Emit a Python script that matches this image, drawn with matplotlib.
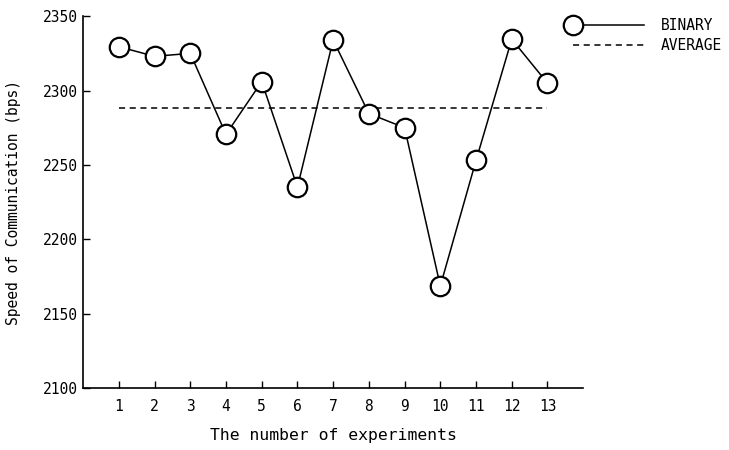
import matplotlib.pyplot as plt
from matplotlib.lines import Line2D
from matplotlib.legend_handler import HandlerLine2D

# values
experiments = [1, 2, 3, 4, 5, 6, 7, 8, 9, 10, 11, 12, 13]
binary_speed = [2329.5, 2323, 2325, 2270.5, 2306, 2235, 2334, 2284.5, 2275, 2168.5, 2253, 2334.5, 2305]
average_speed = 2288

plt.rcParams['font.family'] = ['DejaVu Sans Mono']


# legend entry with only one circle, at the left end of the line
class LeftMarkerHandler(HandlerLine2D):
    def create_artists(self, *args, **kwargs):
        artists = super().create_artists(*args, **kwargs)
        for a in artists:
            a.set_markevery([0])
        return artists


fig = plt.figure(figsize=(7.29, 4.5), dpi=100)
ax = fig.add_axes([0.114, 0.138, 0.686, 0.826])

# average line across all experiments
ax.plot([experiments[0], experiments[-1]], [average_speed, average_speed],
        color='black', linestyle=(0, (4, 3)), linewidth=1.1)
ax.plot(experiments, binary_speed, color='black', linewidth=1.1,
        marker='o', markersize=14, markerfacecolor='white',
        markeredgecolor='black', markeredgewidth=1.6)

ax.set_xlim(0, 14)
ax.set_ylim(2100, 2350)
ax.set_xticks(experiments)
ax.set_yticks([2100, 2150, 2200, 2250, 2300, 2350])
ax.tick_params(direction='in', length=5, width=1, labelsize=10.5)
ax.tick_params(axis='x', pad=8)
ax.spines['top'].set_visible(False)
ax.spines['right'].set_visible(False)
ax.spines['left'].set_linewidth(1.2)
ax.spines['bottom'].set_linewidth(1.2)

ax.set_xlabel('The number of experiments', fontsize=11.8, labelpad=10)
ax.set_ylabel('Speed of Communication (bps)', fontsize=10.5, labelpad=16)

bin_handle = Line2D([], [], color='black', linewidth=1.1, marker='o',
                    markersize=14, markerfacecolor='white',
                    markeredgecolor='black', markeredgewidth=1.6)
avg_handle = Line2D([], [], color='black', linestyle=(0, (4, 3)), linewidth=1.1)
fig.legend([bin_handle, avg_handle], ['BINARY', 'AVERAGE'],
           loc='upper left', bbox_to_anchor=(0.762, 0.99), frameon=False,
           numpoints=2, handlelength=5.5, fontsize=10.5, labelspacing=0.4,
           handler_map={bin_handle: LeftMarkerHandler(numpoints=2)})

fig.savefig('out.png', dpi=100)
